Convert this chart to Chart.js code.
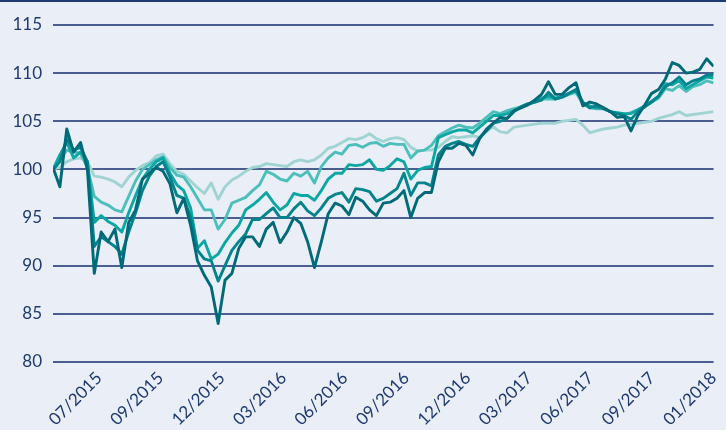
<!DOCTYPE html>
<html>
<head>
<meta charset="utf-8">
<script src="https://cdn.jsdelivr.net/npm/chart.js@4/dist/chart.umd.min.js"></script>
<style>
  html, body { margin: 0; padding: 0; background: #e9eef7; }
  #wrap { width: 726px; height: 430px; position: relative; }
</style>
</head>
<body>
<div id="wrap"><canvas id="c" width="726" height="430"></canvas></div>
<script>
// Sample index (roughly weekly) from late June 2015 to early January 2018
const tickPositions = [6.71, 15.64, 24.57, 33.5, 42.43, 51.36, 60.29, 69.21, 78.14, 87.07, 96];
const tickLabels = ["07/2015", "09/2015", "12/2015", "03/2016", "06/2016", "09/2016", "12/2016", "03/2017", "06/2017", "09/2017", "01/2018"];

const series1 = [100.2, 98.2, 104.2, 101.8, 102.8, 100.0, 89.2, 93.5, 92.5, 93.8, 89.8, 94.5, 95.8, 99.0, 99.6, 100.2, 99.8, 98.5, 95.5, 97.0,
  94.2, 90.5, 89.0, 87.8, 84.0, 88.5, 89.2, 91.8, 93.0, 93.0, 92.0, 93.8, 94.5, 92.4, 93.5, 95.0, 94.4, 92.5, 89.8, 92.5,
  95.4, 96.5, 96.2, 95.3, 97.1, 96.7, 95.8, 95.2, 96.5, 96.6, 97.0, 97.8, 95.0, 97.0, 97.6, 97.6, 100.8, 102.2, 102.2, 102.7,
  102.5, 101.5, 103.2, 104.2, 104.8, 105.4, 105.3, 106.1, 106.4, 106.7, 107.2, 107.8, 109.1, 107.8, 107.8, 108.5, 109.0, 106.6, 107.0, 106.8,
  106.4, 106.0, 105.4, 105.5, 104.0, 105.6, 106.7, 107.9, 108.3, 109.4, 111.1, 110.8, 110.0, 110.1, 110.4, 111.5, 110.7];
const series2 = [100.0, 100.8, 103.2, 102.0, 102.3, 100.8, 92.0, 93.0, 92.5, 92.0, 91.2, 93.5, 95.5, 97.8, 99.3, 100.3, 100.8, 99.2, 97.3, 97.0,
  95.0, 91.6, 90.7, 90.5, 88.4, 90.0, 91.6, 92.5, 93.3, 94.8, 94.8, 95.4, 96.0, 95.0, 95.0, 95.9, 96.6, 95.7, 95.2, 96.0,
  97.0, 97.4, 97.6, 96.6, 98.0, 97.9, 97.7, 96.7, 97.0, 97.5, 98.0, 99.6, 97.3, 98.6, 98.6, 98.3, 101.5, 102.4, 102.7, 102.9,
  102.6, 102.4, 103.3, 104.0, 104.8, 105.0, 105.3, 106.0, 106.5, 106.8, 107.0, 107.2, 108.0, 107.3, 107.5, 107.9, 108.3, 107.0, 106.4, 106.6,
  106.3, 106.0, 105.8, 105.6, 105.2, 106.0, 106.5, 107.0, 107.6, 108.6, 109.0, 109.6, 108.8, 109.2, 109.4, 109.8, 109.8];
const series3 = [100.0, 101.5, 102.8, 101.2, 101.8, 100.8, 94.5, 95.2, 94.6, 94.2, 93.5, 95.5, 97.3, 99.0, 100.0, 100.8, 101.2, 99.6, 98.4, 97.8,
  96.0, 91.8, 92.6, 90.7, 91.2, 92.4, 93.4, 94.2, 95.8, 96.3, 96.9, 97.6, 96.6, 95.8, 96.3, 97.5, 97.3, 97.3, 96.8, 97.8,
  99.0, 99.6, 99.6, 100.5, 100.4, 100.5, 101.0, 100.0, 99.9, 100.4, 101.1, 100.8, 99.0, 99.9, 100.2, 100.3, 103.3, 103.6, 103.9, 104.1,
  104.1, 103.8, 104.4, 105.0, 105.6, 105.6, 105.8, 106.1, 106.5, 106.8, 107.0, 107.4, 107.6, 107.4, 107.6, 107.9, 108.2, 106.9, 106.6, 106.4,
  106.4, 106.0, 105.9, 105.8, 105.8, 106.2, 106.6, 107.1, 107.6, 108.9, 108.8, 109.2, 108.4, 108.8, 109.2, 109.6, 109.5];
const series4 = [99.9, 101.0, 102.0, 101.8, 101.7, 100.2, 97.2, 96.6, 96.3, 95.8, 95.6, 97.2, 98.8, 100.0, 100.5, 101.0, 101.3, 100.2, 99.4, 99.2,
  98.2, 97.0, 95.8, 95.8, 93.8, 94.8, 96.5, 96.8, 97.1, 97.8, 98.4, 99.8, 99.5, 99.0, 98.8, 99.6, 99.3, 99.8, 98.6, 100.3,
  101.2, 101.8, 101.6, 102.5, 102.6, 102.3, 102.7, 102.8, 102.4, 102.7, 102.6, 102.6, 101.2, 101.9, 102.0, 102.5, 103.5, 103.9, 104.3, 104.6,
  104.4, 104.3, 104.8, 105.4, 106.0, 105.8, 106.1, 106.3, 106.5, 106.7, 107.0, 107.3, 107.3, 107.3, 107.5, 107.8, 108.0, 106.8, 106.4, 106.3,
  106.3, 106.0, 105.8, 105.7, 105.9, 106.2, 106.5, 107.0, 107.4, 108.4, 108.2, 108.7, 108.1, 108.6, 108.8, 109.2, 109.0];
const series5 = [100.1, 100.2, 100.8, 101.1, 101.2, 100.8, 99.3, 99.2, 99.0, 98.7, 98.2, 99.2, 99.9, 100.4, 100.7, 101.4, 101.6, 100.6, 99.8, 99.5,
  98.8, 98.1, 97.5, 98.6, 96.9, 98.2, 98.9, 99.3, 99.8, 100.2, 100.3, 100.6, 100.5, 100.4, 100.3, 100.8, 101.0, 100.8, 101.0, 101.5,
  102.2, 102.4, 102.8, 103.2, 103.1, 103.3, 103.7, 103.2, 102.9, 103.2, 103.3, 103.1, 102.3, 101.9, 102.0, 102.0, 102.3, 102.9, 103.4, 103.3,
  103.4, 103.5, 103.3, 104.0, 104.4, 103.9, 103.8, 104.4, 104.5, 104.6, 104.7, 104.8, 104.8, 104.8, 105.0, 105.1, 105.2, 104.6, 103.8, 104.0,
  104.2, 104.3, 104.4, 104.6, 104.7, 104.8, 104.9, 105.0, 105.3, 105.5, 105.7, 106.0, 105.6, 105.7, 105.8, 105.9, 106.0];

const allSeries = [series1, series2, series3, series4, series5];
const colors = ["#006a78", "#02848c", "#0ba7a2", "#4dbfbb", "#9fd4d3"];

const navy = "#1f3a6e";
const gridNavy = "#4b5e90";

const topRule = {
  id: 'topRule',
  beforeDraw(chart) {
    const ctx = chart.ctx;
    ctx.save();
    ctx.fillStyle = "#e9eef7";
    ctx.fillRect(0, 0, chart.width, chart.height);
    ctx.fillStyle = navy;
    ctx.fillRect(0, 0, chart.width, 2);
    ctx.restore();
  }
};

new Chart(document.getElementById('c'), {
  type: 'line',
  data: {
    datasets: allSeries.map((s, k) => ({
      data: s.map((v, i) => ({ x: i, y: v })),
      borderColor: colors[k],
      borderWidth: 2.9,
      borderJoinStyle: 'round',
      pointRadius: 0,
      tension: 0,
      fill: false
    }))
  },
  options: {
    responsive: false,
    animation: false,
    devicePixelRatio: 1,
    layout: { padding: { top: 25, right: 0, left: 0, bottom: 0 } },
    plugins: { legend: { display: false }, tooltip: { enabled: false } },
    scales: {
      x: {
        type: 'linear',
        min: 0,
        max: 96,
        grid: { display: false },
        border: { display: false },
        afterBuildTicks: (scale) => { scale.ticks = tickPositions.map(v => ({ value: v })); },
        afterFit: (scale) => { scale.height = 68; },
        ticks: {
          autoSkip: false,
          minRotation: 45,
          maxRotation: 45,
          padding: -2,
          color: navy,
          font: { family: 'Lato', size: 17 },
          callback: (value, index) => tickLabels[index]
        }
      },
      y: {
        min: 80,
        max: 115,
        afterFit: (scale) => { scale.width = 53; },
        grid: { color: gridNavy, lineWidth: 2, drawTicks: false },
        border: { display: false },
        ticks: {
          stepSize: 5,
          padding: 11,
          color: navy,
          font: { family: 'Lato', size: 17 }
        }
      }
    }
  },
  plugins: [topRule]
});
</script>
</body>
</html>
